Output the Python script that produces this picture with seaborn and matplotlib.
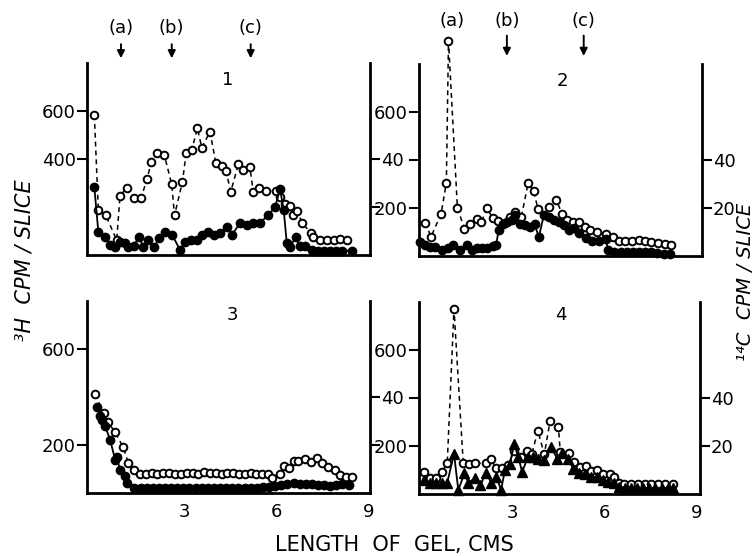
import matplotlib
matplotlib.use("Agg")
import matplotlib.pyplot as plt
import seaborn as sns

# ---------------- data ----------------
# Panel 1
p1_h3_x = [0.04, 0.17, 0.41, 0.77, 0.88, 1.10, 1.35, 1.57, 1.76, 1.90, 2.08, 2.33, 2.57, 2.66, 2.92,
           3.04, 3.22, 3.41, 3.55, 3.82, 4.01, 4.20, 4.34, 4.50, 4.75, 4.91, 5.12, 5.24, 5.42, 5.64,
           5.97, 6.11, 6.27, 6.43, 6.52, 6.68, 6.82, 7.11, 7.20, 7.42, 7.64, 7.86, 8.08, 8.30]
p1_h3_y = [583, 187, 167, 62, 247, 280, 239, 239, 315, 387, 424, 415, 294, 165, 305,
           424, 437, 528, 447, 514, 385, 371, 351, 264, 379, 354, 368, 261, 278, 268,
           268, 243, 214, 204, 167, 183, 135, 93, 77, 62, 62, 62, 65, 62]
p1_c14_x = [0.04, 0.17, 0.39, 0.56, 0.72, 0.88, 1.05, 1.15, 1.32, 1.50, 1.64, 1.81, 2.00, 2.16, 2.35,
            2.59, 2.84, 3.01, 3.20, 3.39, 3.57, 3.77, 3.96, 4.15, 4.37, 4.53, 4.80, 5.02, 5.24, 5.46,
            5.73, 5.95, 6.11, 6.23, 6.33, 6.45, 6.62, 6.75, 6.93, 7.15, 7.35, 7.55, 7.75, 7.95, 8.15, 8.45]
p1_c14_y = [28.2, 9.7, 7.6, 4.2, 3.5, 5.5, 4.9, 3.2, 3.9, 7.4, 3.5, 6.2, 3.5, 6.9, 9.7,
            8.3, 2.1, 5.5, 6.2, 6.4, 8.3, 9.7, 8.3, 9.0, 11.8, 8.3, 13.2, 12.5, 13.2, 13.5,
            16.7, 20.1, 27.4, 18.7, 4.9, 3.5, 7.6, 3.9, 3.9, 2.1, 1.8, 1.8, 1.8, 1.8, 1.8, 1.8]

# Panel 2
p2_h3_x = [0.14, 0.33, 0.66, 0.83, 0.90, 1.19, 1.42, 1.61, 1.83, 1.97, 2.15, 2.34, 2.51, 2.73, 2.89,
           3.07, 3.27, 3.49, 3.67, 3.81, 4.16, 4.40, 4.60, 4.76, 4.94, 5.14, 5.33, 5.52, 5.72, 6.01,
           6.25, 6.44, 6.66, 6.88, 7.10, 7.30, 7.50, 7.72, 7.94, 8.14]
p2_h3_y = [139, 80, 176, 306, 896, 200, 114, 134, 155, 141, 199, 158, 144, 137, 162,
           182, 162, 303, 272, 196, 203, 235, 176, 148, 141, 141, 121, 107, 100, 93,
           79, 62, 62, 62, 65, 62, 58, 55, 52, 45]
p2_c14_x = [-0.02, 0.14, 0.30, 0.47, 0.68, 0.90, 1.06, 1.28, 1.50, 1.66, 1.83, 1.99, 2.15, 2.34, 2.45,
            2.53, 2.66, 2.80, 2.96, 3.07, 3.23, 3.39, 3.56, 3.70, 3.84, 4.00, 4.16, 4.33, 4.49, 4.65,
            4.82, 4.98, 5.14, 5.36, 5.58, 5.79, 6.01, 6.10, 6.30, 6.50, 6.70, 6.90, 7.10, 7.30, 7.50,
            7.70, 7.90, 8.10]
p2_c14_y = [5.9, 4.5, 3.8, 3.6, 2.5, 3.2, 4.5, 2.5, 4.5, 2.5, 3.2, 3.2, 3.4, 4.2, 4.5,
            10.7, 13.4, 14.1, 14.8, 16.9, 13.4, 12.8, 12.1, 13.2, 7.9, 16.9, 16.2, 15.1, 14.1, 12.8,
            10.7, 11.5, 9.4, 7.4, 6.4, 6.4, 7.0, 2.5, 1.8, 1.8, 1.8, 1.8, 1.8, 1.6, 1.5,
            1.3, 1.0, 0.8]

# Panel 3
p3_h3_x = [0.07, 0.34, 0.48, 0.70, 0.99, 1.15, 1.35, 1.53, 1.72, 1.91, 2.10, 2.30, 2.49, 2.68, 2.87,
           3.06, 3.25, 3.44, 3.63, 3.82, 4.01, 4.20, 4.39, 4.58, 4.77, 4.96, 5.15, 5.34, 5.53, 5.72,
           5.86, 6.10, 6.25, 6.40, 6.55, 6.71, 6.93, 7.13, 7.31, 7.47, 7.69, 7.90, 8.07, 8.26, 8.45]
p3_h3_y = [412, 332, 297, 256, 190, 124, 96, 79, 80, 82, 80, 84, 82, 78, 80,
           84, 82, 80, 86, 82, 82, 80, 84, 84, 80, 80, 82, 80, 80, 80,
           64, 79, 112, 103, 134, 134, 140, 130, 144, 124, 107, 96, 75, 65, 65]
p3_c14_x = [0.12, 0.23, 0.28, 0.39, 0.56, 0.72, 0.77, 0.88, 1.03, 1.10, 1.35, 1.55, 1.75, 1.95, 2.15,
            2.35, 2.55, 2.75, 2.95, 3.15, 3.35, 3.55, 3.75, 3.95, 4.15, 4.35, 4.55, 4.75, 4.95, 5.15,
            5.35, 5.55, 5.75, 5.95, 6.15, 6.35, 6.55, 6.75, 6.95, 7.15, 7.35, 7.55, 7.75, 7.95, 8.15, 8.35]
p3_c14_y = [36, 32, 30.4, 28, 22, 13.8, 15, 9.6, 7.2, 4, 2.2, 2.2, 2.0, 2.2, 2.0,
            2.2, 2.0, 2.0, 2.2, 2.0, 2.2, 2.0, 2.2, 2.0, 2.0, 2.2, 2.0, 2.0, 2.2, 2.0,
            2.2, 2.4, 2.6, 2.8, 3.4, 3.8, 4.0, 3.8, 3.6, 3.8, 3.4, 3.2, 3.0, 3.2, 3.6, 3.4]

# Panel 4
p4_h3_x = [0.12, 0.31, 0.49, 0.69, 0.87, 1.09, 1.39, 1.58, 1.77, 2.12, 2.29, 2.47, 2.66, 2.85, 3.05,
           3.27, 3.46, 3.62, 3.82, 4.03, 4.22, 4.49, 4.55, 4.82, 5.01, 5.20, 5.38, 5.55, 5.73, 5.94,
           6.16, 6.30, 6.45, 6.64, 6.86, 7.08, 7.30, 7.51, 7.73, 7.97, 8.22]
p4_h3_y = [93, 65, 65, 90, 130, 770, 130, 125, 128, 128, 144, 107, 107, 120, 180,
           155, 179, 165, 264, 165, 305, 278, 175, 172, 134, 112, 115, 97, 99, 85,
           82, 72, 47, 43, 40, 40, 40, 40, 40, 40, 40]
p4_c14_x = [0.12, 0.31, 0.49, 0.69, 0.87, 1.09, 1.23, 1.43, 1.56, 1.76, 1.95, 2.12, 2.31, 2.47, 2.62,
            2.75, 2.91, 3.05, 3.18, 3.31, 3.50, 3.66, 3.84, 4.01, 4.25, 4.45, 4.61, 4.79, 4.98, 5.17,
            5.35, 5.55, 5.74, 5.93, 6.11, 6.29, 6.47, 6.65, 6.85, 7.05, 7.25, 7.45, 7.65, 7.85, 8.05, 8.22]
p4_c14_y = [5.8, 4.7, 4.4, 4.4, 4.7, 16.7, 1.7, 8.6, 4.7, 6.5, 3.6, 8.6, 4.7, 7.2, 1.7,
            10, 12.5, 20.8, 15.5, 9.2, 15.5, 15.5, 14.4, 14.1, 19.6, 14.7, 16.9, 14.7, 10.6, 8.8,
            8.5, 7.1, 7.1, 6.0, 5.0, 4.5, 2.8, 2.6, 2.6, 2.5, 2.5, 2.4, 2.4, 2.5, 2.5, 2.4]

x_tick_labels = ["3", "6", "9"]
panel_names = ["1", "2", "3", "4"]
marker_names = ["(a)", "(b)", "(c)"]
p1_marker_x = [0.91, 2.57, 5.15]
p2_marker_x = [1.02, 2.80, 5.30]

# ---------------- styling ----------------
sns.set_style("white")
plt.rcParams["font.family"] = ["DejaVu Sans"]
for k in ["text.color", "axes.labelcolor", "xtick.color", "ytick.color", "axes.edgecolor"]:
    plt.rcParams[k] = "black"

fig = plt.figure(figsize=(7.55, 5.56), dpi=100)
W, H = 755.0, 556.0


def frac(left, right, y0, ytop):
    return [left / W, (H - y0) / H, (right - left) / W, (y0 - ytop) / H]


panels = [
    dict(rect=frac(87, 370, 255, 63), xlim=(-0.2, 9.05), hx=p1_h3_x, hy=p1_h3_y, cx=p1_c14_x, cy=p1_c14_y,
         cm="o", lyt=[400, 600], lyl=["400", "600"], ryt=[20, 40], ryl=["", "40"], xl=False,
         name=panel_names[0], nx=4.41, ny=730, xt=[6]),
    dict(rect=frac(419, 702, 256, 64), xlim=(-0.06, 9.15), hx=p2_h3_x, hy=p2_h3_y, cx=p2_c14_x, cy=p2_c14_y,
         cm="o", lyt=[200, 400, 600], lyl=["200", "", "600"], ryt=[20, 40], ryl=["20", "40"], xl=False,
         name=panel_names[1], nx=4.6, ny=730, xt=[3]),
    dict(rect=frac(87, 370, 493, 301), xlim=(-0.2, 9.05), hx=p3_h3_x, hy=p3_h3_y, cx=p3_c14_x, cy=p3_c14_y,
         cm="o", lyt=[200, 600], lyl=["200", "600"], ryt=[20, 40], ryl=["", "40"], xl=True,
         name=panel_names[2], nx=4.54, ny=742, xt=[3, 6, 9]),
    dict(rect=frac(419, 700, 494, 302), xlim=(-0.05, 9.1), hx=p4_h3_x, hy=p4_h3_y, cx=p4_c14_x, cy=p4_c14_y,
         cm="^", lyt=[200, 400, 600], lyl=["200", "", "600"], ryt=[20, 40], ryl=["20", "40"], xl=True,
         name=panel_names[3], nx=4.58, ny=746, xt=[3, 6, 9]),
]

axes = []
for p in panels:
    ax = fig.add_axes(p["rect"])
    ax2 = ax.twinx()
    ax.set_xlim(*p["xlim"])
    ax.set_ylim(0, 800)
    ax2.set_ylim(0, 80)

    sns.lineplot(x=p["hx"], y=p["hy"], ax=ax, color="black", marker="o", markersize=5.5,
                 markerfacecolor="white", markeredgecolor="black", markeredgewidth=1.4,
                 linewidth=1.1, linestyle="--", clip_on=False, estimator=None, sort=False)
    ax.lines[-1].set_dashes([3.2, 2.6])
    ms = 6.5 if p["cm"] == "^" else 6
    sns.lineplot(x=p["cx"], y=p["cy"], ax=ax2, color="black", marker=p["cm"], markersize=ms,
                 markerfacecolor="black", markeredgecolor="black", markeredgewidth=1.0,
                 linewidth=1.3, linestyle="-", clip_on=False, estimator=None, sort=False)

    for a in (ax, ax2):
        a.set_xlabel("")
        a.set_ylabel("")
        a.spines["top"].set_visible(False)
        for s in a.spines.values():
            s.set_linewidth(2.0)
            s.set_color("black")
    ax.spines["right"].set_visible(False)
    ax2.spines["left"].set_visible(False)
    ax2.spines["bottom"].set_visible(False)

    ax.set_yticks(p["lyt"])
    ax.set_yticklabels(p["lyl"])
    ax2.set_yticks(p["ryt"])
    ax2.set_yticklabels(p["ryl"])
    ax.set_xticks([float(t) for t in p["xt"]])
    if p["xl"]:
        ax.set_xticklabels([x_tick_labels[[3, 6, 9].index(t)] for t in p["xt"]])
    else:
        ax.set_xticklabels([])
    ax.tick_params(axis="y", direction="out", length=7, width=1.5, pad=1, labelsize=13, colors="black")
    ax.tick_params(axis="x", direction="in", length=7, width=1.5, pad=7, labelsize=13, colors="black")
    ax2.tick_params(axis="y", direction="out", length=7, width=1.5, pad=1, labelsize=13, colors="black")
    ax.text(p["nx"], p["ny"], p["name"], ha="center", va="center", fontsize=13, color="black")
    axes.append(ax)

# arrows and letters on top panels
ax1, ax2p = axes[0], axes[1]
for xm, lab in zip(p1_marker_x, marker_names):
    ax1.annotate("", xy=(xm, 808), xytext=(xm, 890), annotation_clip=False,
                 arrowprops=dict(arrowstyle="-|>", color="black", lw=1.4, mutation_scale=11))
    ax1.text(xm, 945, lab, ha="center", va="center", fontsize=13, clip_on=False, color="black")
for i, (xm, lab) in enumerate(zip(p2_marker_x, marker_names)):
    if i > 0:
        ax2p.annotate("", xy=(xm, 822), xytext=(xm, 930), annotation_clip=False,
                      arrowprops=dict(arrowstyle="-|>", color="black", lw=1.4, mutation_scale=11))
    ax2p.text(xm, 978, lab, ha="center", va="center", fontsize=13, clip_on=False, color="black")

fig.text(0.033, 0.532, "³H  CPM / SLICE", rotation=90, ha="center", va="center",
         fontsize=15, style="italic", color="black")
fig.text(0.987, 0.493, "¹⁴C  CPM / SLICE", rotation=90, ha="center", va="center",
         fontsize=14, style="italic", color="black")
fig.text(0.523, 0.02, "LENGTH  OF  GEL, CMS", ha="center", va="center", fontsize=15, color="black")

fig.savefig("out.png", dpi=100)
